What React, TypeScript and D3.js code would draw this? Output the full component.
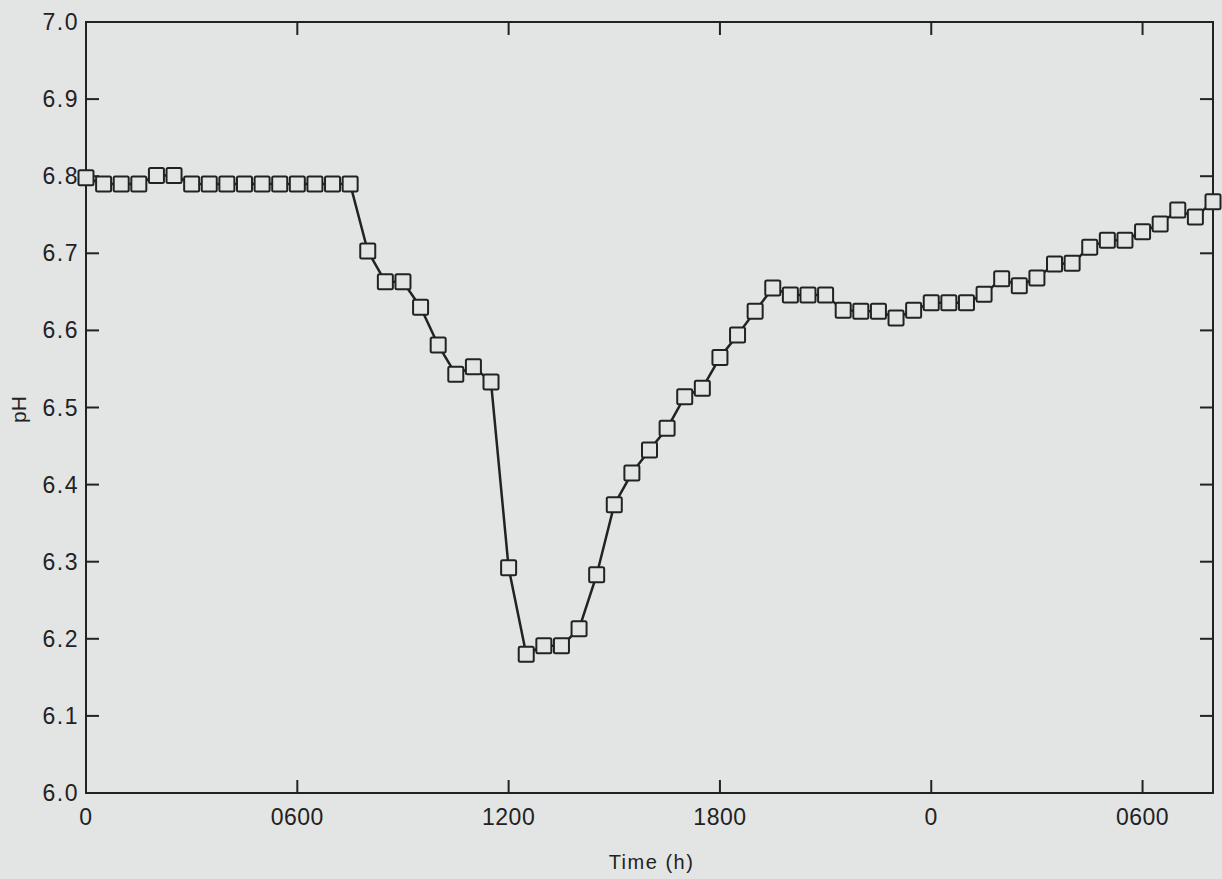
import React, { useEffect, useRef } from "react";
import * as d3 from "d3";

const times: number[] = [
  0, 0.5, 1, 1.5, 2, 2.5, 3, 3.5, 4, 4.5, 5, 5.5, 6, 6.5, 7, 7.5,
  8, 8.5, 9, 9.5, 10, 10.5, 11, 11.5, 12, 12.5, 13, 13.5, 14, 14.5, 15, 15.5,
  16, 16.5, 17, 17.5, 18, 18.5, 19, 19.5, 20, 20.5, 21, 21.5, 22, 22.5, 23, 23.5,
  24, 24.5, 25, 25.5, 26, 26.5, 27, 27.5, 28, 28.5, 29, 29.5, 30, 30.5, 31, 31.5, 32,
];

const phValues: number[] = [
  6.798, 6.79, 6.79, 6.79, 6.801, 6.801, 6.79, 6.79, 6.79, 6.79, 6.79, 6.79, 6.79, 6.79, 6.79, 6.79,
  6.703, 6.663, 6.663, 6.63, 6.581, 6.543, 6.553, 6.533, 6.292, 6.18, 6.191, 6.191, 6.213, 6.283, 6.374, 6.415,
  6.445, 6.473, 6.514, 6.525, 6.565, 6.594, 6.625, 6.655, 6.646, 6.646, 6.646, 6.626, 6.625, 6.625, 6.616, 6.626,
  6.636, 6.636, 6.636, 6.647, 6.667, 6.658, 6.668, 6.686, 6.687, 6.708, 6.717, 6.717, 6.728, 6.738, 6.756, 6.747, 6.767,
];

const xTickValues: number[] = [0, 6, 12, 18, 24, 30];
const xTickLabels: string[] = ["0", "0600", "1200", "1800", "0", "0600"];
const yTickValues: number[] = [6.0, 6.1, 6.2, 6.3, 6.4, 6.5, 6.6, 6.7, 6.8, 6.9, 7.0];
const xDomain: [number, number] = [0, 32];
const yDomain: [number, number] = [6.0, 7.0];
const xTitle = "Time (h)";
const yTitle = "pH";

const W = 1222;
const H = 879;
const M = { left: 86, right: 1213, top: 22, bottom: 793 };
const BG = "#e3e5e4";
const INK = "#222222";
const FONT = "'Liberation Sans', Arial, Helvetica, sans-serif";

export default function App() {
  const ref = useRef<SVGSVGElement | null>(null);

  useEffect(() => {
    const svg = d3.select(ref.current);
    svg.selectAll("*").remove();

    const x = d3.scaleLinear().domain(xDomain).range([M.left, M.right]);
    const y = d3.scaleLinear().domain(yDomain).range([M.bottom, M.top]);

    svg.append("rect").attr("width", W).attr("height", H).attr("fill", BG);

    svg
      .append("rect")
      .attr("x", M.left)
      .attr("y", M.top)
      .attr("width", M.right - M.left)
      .attr("height", M.bottom - M.top)
      .attr("fill", "none")
      .attr("stroke", INK)
      .attr("stroke-width", 2);

    const tickLen = 13;
    const xt = svg.append("g");
    xTickValues.forEach((v, i) => {
      if (v > xDomain[0] && v < xDomain[1]) {
        xt.append("line")
          .attr("x1", x(v)).attr("x2", x(v))
          .attr("y1", M.bottom).attr("y2", M.bottom - tickLen)
          .attr("stroke", INK).attr("stroke-width", 2);
        xt.append("line")
          .attr("x1", x(v)).attr("x2", x(v))
          .attr("y1", M.top).attr("y2", M.top + tickLen)
          .attr("stroke", INK).attr("stroke-width", 2);
      }
      xt.append("text")
        .attr("x", x(v))
        .attr("y", M.bottom + 32)
        .attr("text-anchor", "middle")
        .attr("font-family", FONT)
        .attr("font-size", 23)
        .attr("letter-spacing", 0.5)
        .attr("fill", INK)
        .text(xTickLabels[i]);
    });

    const yt = svg.append("g");
    yTickValues.forEach((v) => {
      const yy = y(v);
      if (v > yDomain[0] + 1e-9 && v < yDomain[1] - 1e-9) {
        yt.append("line")
          .attr("x1", M.left).attr("x2", M.left + tickLen)
          .attr("y1", yy).attr("y2", yy)
          .attr("stroke", INK).attr("stroke-width", 2);
        yt.append("line")
          .attr("x1", M.right).attr("x2", M.right - tickLen)
          .attr("y1", yy).attr("y2", yy)
          .attr("stroke", INK).attr("stroke-width", 2);
      }
      yt.append("text")
        .attr("x", M.left - 7)
        .attr("y", yy + 8)
        .attr("text-anchor", "end")
        .attr("font-family", FONT)
        .attr("font-size", 23)
        .attr("letter-spacing", 1.5)
        .attr("fill", INK)
        .text(d3.format(".1f")(v));
    });

    svg.append("text")
      .attr("x", (M.left + M.right) / 2 + 2)
      .attr("y", 869)
      .attr("text-anchor", "middle")
      .attr("font-family", FONT)
      .attr("font-size", 20)
      .attr("letter-spacing", 1.5)
      .attr("fill", INK)
      .text(xTitle);

    svg.append("text")
      .attr("transform", `translate(26, ${y(6.5) + 2}) rotate(-90)`)
      .attr("text-anchor", "middle")
      .attr("font-family", FONT)
      .attr("font-size", 21)
      .attr("fill", INK)
      .text(yTitle);

    const data = times.map((t, i) => ({ t, v: phValues[i] }));

    const line = d3
      .line<{ t: number; v: number }>()
      .x((d) => x(d.t))
      .y((d) => y(d.v));

    svg.append("path")
      .datum(data)
      .attr("d", line)
      .attr("fill", "none")
      .attr("stroke", INK)
      .attr("stroke-width", 2.5)
      .attr("stroke-linejoin", "round");

    const s = 15;
    svg.append("g")
      .selectAll("rect")
      .data(data)
      .join("rect")
      .attr("x", (d) => x(d.t) - s / 2)
      .attr("y", (d) => y(d.v) - s / 2)
      .attr("width", s)
      .attr("height", s)
      .attr("rx", 1.5)
      .attr("fill", BG)
      .attr("stroke", INK)
      .attr("stroke-width", 2);
  }, []);

  return (
    <div style={{ position: "fixed", left: 0, top: 0, width: W, height: H, background: BG }}>
      <svg ref={ref} width={W} height={H} style={{ display: "block" }} />
    </div>
  );
}
